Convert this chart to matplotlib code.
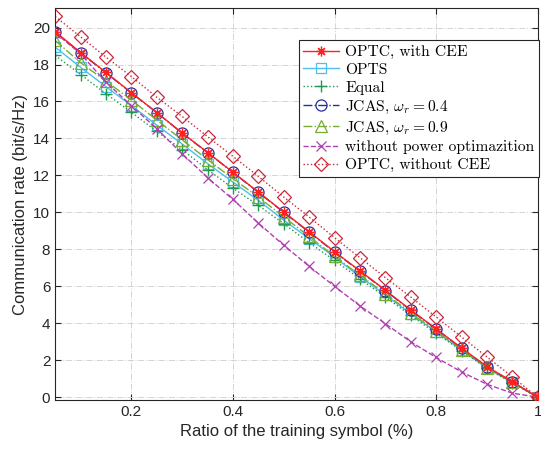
import numpy as np
import matplotlib
matplotlib.use('Agg')
import matplotlib.pyplot as plt

plt.rcParams['font.family'] = ['Liberation Sans', 'DejaVu Sans']
plt.rcParams['mathtext.fontset'] = 'cm'

# rapporto dei simboli di training
ratio = [0.05, 0.10, 0.15, 0.20, 0.25, 0.30, 0.35, 0.40, 0.45, 0.50,
         0.55, 0.60, 0.65, 0.70, 0.75, 0.80, 0.85, 0.90, 0.95, 1.00]

optc_cee = [19.78, 18.65, 17.57, 16.48, 15.40, 14.30, 13.24, 12.17, 11.10, 10.02,
            8.95, 7.87, 6.84, 5.79, 4.72, 3.70, 2.66, 1.66, 0.84, 0.0]
opts = [18.94, 17.85, 16.80, 15.78, 14.72, 13.70, 12.64, 11.64, 10.65, 9.58,
        8.58, 7.58, 6.52, 5.52, 4.52, 3.53, 2.55, 1.57, 0.80, 0.0]
equal = [18.49, 17.46, 16.42, 15.42, 14.38, 13.39, 12.32, 11.31, 10.38, 9.39,
         8.36, 7.40, 6.40, 5.42, 4.43, 3.45, 2.52, 1.56, 0.76, 0.0]
jcas_04 = [19.76, 18.63, 17.55, 16.46, 15.40, 14.28, 13.24, 12.16, 11.08, 10.00,
           8.93, 7.85, 6.82, 5.77, 4.70, 3.68, 2.64, 1.64, 0.83, 0.0]
jcas_09 = [19.30, 18.10, 17.10, 16.08, 15.00, 13.92, 12.86, 11.82, 10.83, 9.75,
           8.70, 7.62, 6.60, 5.60, 4.57, 3.57, 2.58, 1.60, 0.80, 0.0]
no_power = [19.72, 18.58, 17.04, 15.78, 14.52, 13.17, 11.88, 10.70, 9.42, 8.22,
            7.08, 6.00, 4.94, 3.98, 3.00, 2.15, 1.37, 0.70, 0.22, 0.0]
optc_nocee = [20.60, 19.50, 18.40, 17.35, 16.23, 15.19, 14.10, 13.03, 11.95, 10.83,
              9.75, 8.63, 7.55, 6.47, 5.42, 4.34, 3.26, 2.18, 1.10, 0.0]

fig = plt.figure(figsize=(5.41, 4.53), dpi=100)
ax = fig.add_axes([0.102, 0.117, 0.892, 0.865])

ms = 7
mew = 0.9
ax.plot(ratio, optc_cee, '-', color='#FF2020', marker=(8, 2, 0), ms=ms, lw=1.0,
        mew=mew, label='OPTC, with CEE', zorder=5)
ax.plot(ratio, opts, '-', color='#4DBEEE', marker='s', ms=ms, lw=1.0,
        mew=mew, mfc='none', label='OPTS')
ax.plot(ratio, equal, ':', color='#1E9A50', marker='+', ms=ms + 1, lw=1.0,
        mew=1.0, label='Equal')
ax.plot(ratio, jcas_04, '-.', color='#2430A0', marker='o', ms=ms + 1, lw=1.0,
        mew=mew, mfc='none', label=r'JCAS, $\omega_r=0.4$')
ax.plot(ratio, jcas_09, '-.', color='#77AC30', marker='^', ms=ms + 1, lw=1.0,
        mew=mew, mfc='none', label=r'JCAS, $\omega_r=0.9$')
ax.plot(ratio, no_power, '--', color='#B040B0', marker='x', ms=ms, lw=1.0,
        mew=mew, label='without power optimazition')
ax.plot(ratio, optc_nocee, ':', color='#C8283A', marker='D', ms=ms, lw=1.0,
        mew=mew, mfc='none', label='OPTC, without CEE')

ax.set_xlim(0.05, 1.0)
ax.set_ylim(-0.15, 21.05)
ax.set_xticks([0.2, 0.4, 0.6, 0.8, 1.0])
ax.set_xticklabels(['0.2', '0.4', '0.6', '0.8', '1'])
ax.set_yticks(np.arange(0, 21, 2))
ax.tick_params(direction='in', top=True, right=True, labelsize=11,
               colors='#262626', length=4)
for s in ax.spines.values():
    s.set_color('#262626')
    s.set_linewidth(0.8)
ax.grid(True, linestyle='-.', color='#D4D4D4', lw=0.7)
ax.set_axisbelow(True)

ax.set_xlabel('Ratio of the training symbol (%)', fontsize=12, color='#262626')
ax.set_ylabel('Communication rate (bit/s/Hz)', fontsize=12, color='#262626')

leg = ax.legend(loc='upper right', bbox_to_anchor=(1.003, 0.918),
                prop={'family': 'cmr10', 'size': 11.2}, handlelength=2.3,
                fancybox=False, framealpha=1, edgecolor='#262626',
                borderpad=0.3, labelspacing=0.25, handletextpad=0.4,
                borderaxespad=0.0)
leg.get_frame().set_linewidth(0.8)

fig.savefig('out.png', dpi=100)
